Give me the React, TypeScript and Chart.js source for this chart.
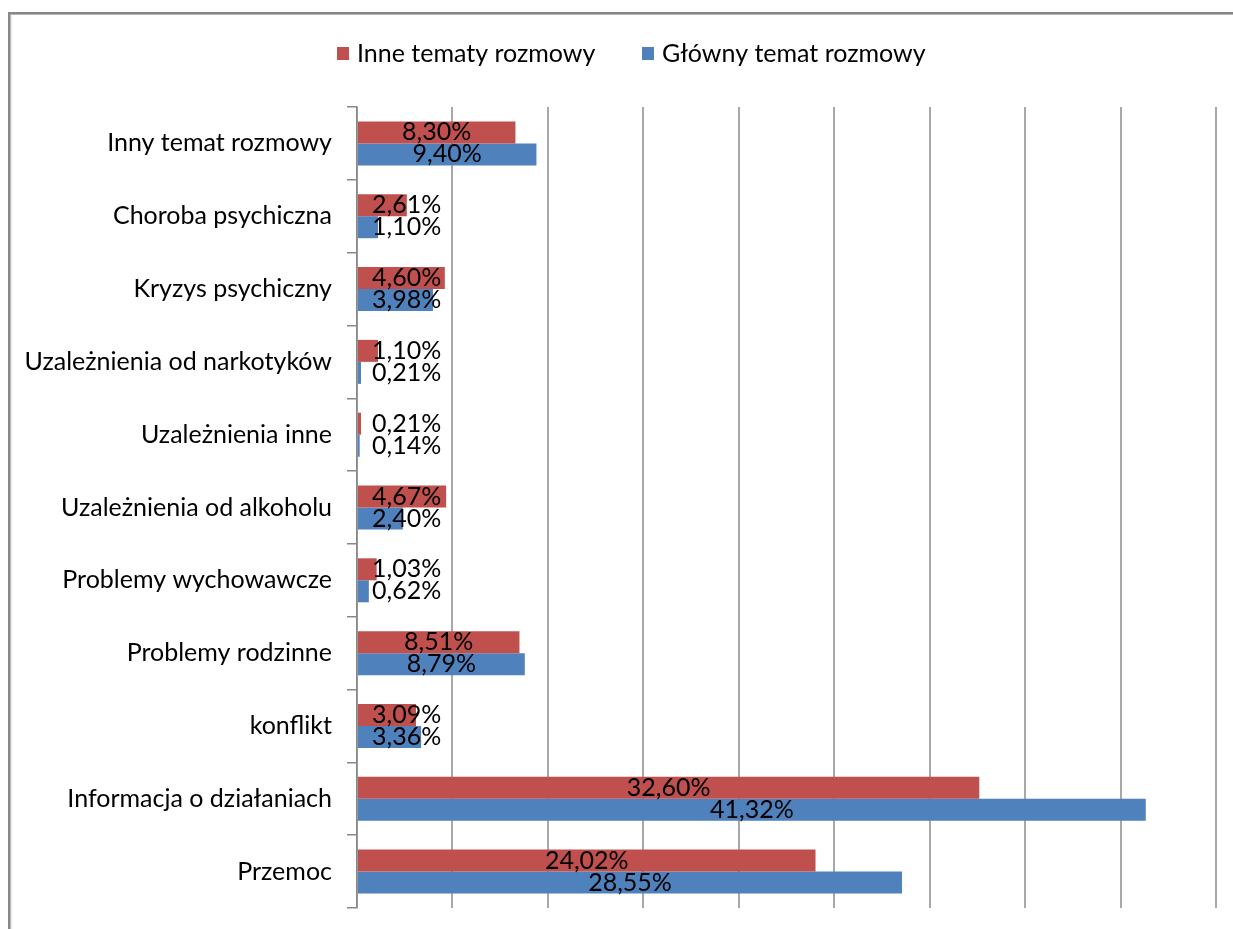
import React, { useEffect, useRef } from "react";
import { Chart, registerables } from "chart.js";
Chart.register(...registerables);

const categories = [
  "Inny temat rozmowy",
  "Choroba psychiczna",
  "Kryzys psychiczny",
  "Uzależnienia od narkotyków",
  "Uzależnienia inne",
  "Uzależnienia od alkoholu",
  "Problemy wychowawcze",
  "Problemy rodzinne",
  "konflikt",
  "Informacja o działaniach",
  "Przemoc",
];
const otherTopics = [8.3, 2.61, 4.6, 1.1, 0.21, 4.67, 1.03, 8.51, 3.09, 32.6, 24.02];
const mainTopic = [9.4, 1.1, 3.98, 0.21, 0.14, 2.4, 0.62, 8.79, 3.36, 41.32, 28.55];
const seriesLabels = ["Inne tematy rozmowy", "Główny temat rozmowy"];
const seriesColors = ["#C0504D", "#4F81BD"];
const xMin = 0;
const xMax = 45;
const xStep = 5;

const FONT = "Lato";
const FONT_SIZE = 25;
const W = 1233;
const H = 929;

const fmt = (v: number) => v.toFixed(2).replace(".", ",") + "%";

const framePlugin = {
  id: "frame",
  beforeDraw(chart: any) {
    const ctx = chart.ctx;
    ctx.save();
    ctx.fillStyle = "#ffffff";
    ctx.fillRect(0, 0, W, H);
    ctx.fillStyle = "#878787";
    ctx.fillRect(8, 12, W - 8, 2);
    ctx.fillRect(8, 12, 2.5, H - 12);
    ctx.fillStyle = "#b5b5b5";
    ctx.fillRect(10, 14, W - 10, 1);
    ctx.fillRect(10.5, 14, 0.8, H - 14);
    ctx.restore();
  },
};

const legendPlugin = {
  id: "customLegend",
  afterDraw(chart: any) {
    const ctx = chart.ctx;
    ctx.save();
    ctx.font = `${FONT_SIZE}px ${FONT}`;
    ctx.textBaseline = "middle";
    ctx.textAlign = "left";
    const y = 54;
    const items = [
      { x: 337, label: seriesLabels[0], color: seriesColors[0] },
      { x: 642, label: seriesLabels[1], color: seriesColors[1] },
    ];
    items.forEach((it) => {
      ctx.fillStyle = it.color;
      ctx.fillRect(it.x, y - 7, 12, 13);
      ctx.fillStyle = "#000";
      ctx.fillText(it.label, it.x + 20, y);
    });
    ctx.restore();
  },
};

const dataLabelPlugin = {
  id: "dataLabels",
  afterDatasetsDraw(chart: any) {
    const ctx = chart.ctx;
    const left = chart.chartArea.left;
    ctx.save();
    ctx.font = `${FONT_SIZE}px ${FONT}`;
    ctx.textBaseline = "middle";
    ctx.textAlign = "center";
    ctx.fillStyle = "#000";
    chart.data.datasets.forEach((ds: any, di: number) => {
      const meta = chart.getDatasetMeta(di);
      meta.data.forEach((bar: any, i: number) => {
        const text = fmt(ds.data[i]);
        const w = ctx.measureText(text).width;
        let cx = (bar.x + bar.base) / 2;
        cx = Math.max(cx, left + 15 + w / 2);
        ctx.fillText(text, cx, bar.y);
      });
    });
    ctx.restore();
  },
};

export default function App() {
  const ref = useRef<HTMLCanvasElement | null>(null);
  useEffect(() => {
    if (!ref.current) return;
    const chart = new Chart(ref.current, {
      type: "bar",
      data: {
        labels: categories,
        datasets: [
          {
            label: seriesLabels[0],
            data: otherTopics,
            backgroundColor: seriesColors[0],
            categoryPercentage: 0.604,
            barPercentage: 1,
          },
          {
            label: seriesLabels[1],
            data: mainTopic,
            backgroundColor: seriesColors[1],
            categoryPercentage: 0.604,
            barPercentage: 1,
          },
        ],
      },
      options: {
        indexAxis: "y",
        responsive: false,
        animation: false,
        layout: { padding: { top: 107, right: 17, left: 0, bottom: 0 } },
        plugins: {
          legend: { display: false },
          tooltip: { enabled: false },
          title: { display: false },
        },
        scales: {
          x: {
            min: xMin,
            max: xMax,
            ticks: { display: false, stepSize: xStep },
            grid: { color: "#a8a8a8", lineWidth: 2, drawTicks: false },
            border: { display: false },
            afterFit: (s: any) => {
              s.height = 21;
              s.paddingLeft = 0;
              s.paddingRight = 0;
            },
          },
          y: {
            grid: {
              drawOnChartArea: false,
              drawTicks: true,
              tickLength: 10,
              color: "#888888",
              lineWidth: 1.5,
            },
            border: { display: true, color: "#888888", width: 1.5 },
            ticks: {
              color: "#000",
              font: { family: FONT, size: FONT_SIZE },
              padding: 15,
            },
            afterFit: (s: any) => {
              s.width = 357;
              s.paddingTop = 0;
              s.paddingBottom = 0;
            },
          },
        },
      },
      plugins: [framePlugin, legendPlugin, dataLabelPlugin],
    });
    return () => chart.destroy();
  }, []);
  return (
    <div style={{ position: "absolute", left: 0, top: 0, width: W, height: H }}>
      <canvas ref={ref} width={W} height={H} style={{ display: "block" }} />
    </div>
  );
}
